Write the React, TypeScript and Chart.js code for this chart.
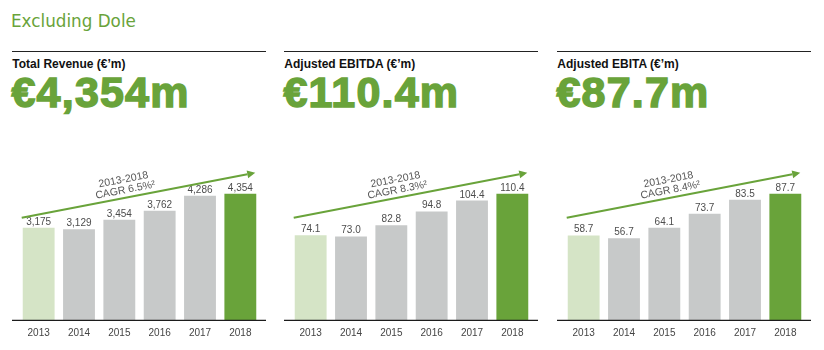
import React, { useEffect, useRef } from "react";
import { Chart, registerables } from "chart.js";

Chart.register(...registerables);

// ---- data ----
const YEARS = ["2013", "2014", "2015", "2016", "2017", "2018"];
const REVENUE = [3175, 3129, 3454, 3762, 4286, 4354];
const REVENUE_LABELS = ["3,175", "3,129", "3,454", "3,762", "4,286", "4,354"];
const EBITDA = [74.1, 73.0, 82.8, 94.8, 104.4, 110.4];
const EBITDA_LABELS = ["74.1", "73.0", "82.8", "94.8", "104.4", "110.4"];
const EBITA = [58.7, 56.7, 64.1, 73.7, 83.5, 87.7];
const EBITA_LABELS = ["58.7", "56.7", "64.1", "73.7", "83.5", "87.7"];
const PAGE_TITLE = "Excluding Dole";
const TITLES = ["Total Revenue (€’m)", "Adjusted EBITDA (€’m)", "Adjusted EBITA (€’m)"];
const HEADLINES = ["€4,354m", "€110.4m", "€87.7m"];
const CAGR_PERIOD = "2013-2018";
const CAGRS = ["CAGR 6.5%²", "CAGR 8.3%²", "CAGR 8.4%²"];

// ---- styles ----
const GREEN = "#69a33a";
const LIGHT_GREEN = "#d5e4c6";
const GREY = "#c7c9c9";
const BAR_COLORS = [LIGHT_GREEN, GREY, GREY, GREY, GREY, GREEN];
const SANS = "'Liberation Sans', Arial, Helvetica, sans-serif";

type PanelProps = {
  left: number;
  title: string;
  headline: string;
  values: number[];
  labels: string[];
  cagr: string;
};

function Panel({ left, title, headline, values, labels, cagr }: PanelProps) {
  const ref = useRef<HTMLCanvasElement | null>(null);

  useEffect(() => {
    if (!ref.current) return;
    const max = Math.max(...values);

    const overlay = {
      id: "overlay",
      afterDatasetsDraw(chart: any) {
        const ctx: CanvasRenderingContext2D = chart.ctx;
        const meta = chart.getDatasetMeta(0);
        const ys = chart.scales.y;
        const area = chart.chartArea;
        ctx.save();
        // baseline
        const by = ys.getPixelForValue(0);
        ctx.strokeStyle = "#1c1c1c";
        ctx.lineWidth = 1.3;
        ctx.beginPath();
        ctx.moveTo(area.left - 6.5, by + 0.5);
        ctx.lineTo(area.right + 5.5, by + 0.5);
        ctx.stroke();

        // value labels
        ctx.fillStyle = "#4d4d4d";
        ctx.font = `10px ${SANS}`;
        ctx.textAlign = "center";
        ctx.textBaseline = "alphabetic";
        meta.data.forEach((bar: any, i: number) => {
          ctx.fillText(labels[i], bar.x, bar.y - 3);
        });

        // CAGR arrow
        const first = meta.data[0];
        const last = meta.data[meta.data.length - 1];
        const x0 = first.x - first.width / 2 - 1;
        const x1 = last.x + last.width / 2 - 1;
        const y0 = ys.getPixelForValue(max * 0.81);
        const y1 = ys.getPixelForValue(max * 1.165);
        const ang = Math.atan2(y1 - y0, x1 - x0);
        const head = 8;
        const hw = 4;
        const bx = x1 - head * Math.cos(ang);
        const byy = y1 - head * Math.sin(ang);
        ctx.strokeStyle = GREEN;
        ctx.fillStyle = GREEN;
        ctx.lineWidth = 2;
        ctx.beginPath();
        ctx.moveTo(x0, y0);
        ctx.lineTo(bx, byy);
        ctx.stroke();
        ctx.beginPath();
        ctx.moveTo(x1, y1);
        ctx.lineTo(bx + hw * Math.sin(ang), byy - hw * Math.cos(ang));
        ctx.lineTo(bx - hw * Math.sin(ang), byy + hw * Math.cos(ang));
        ctx.closePath();
        ctx.fill();

        // CAGR text along arrow
        const t = 0.45;
        const ax = x0 + (x1 - x0) * t;
        const ay = y0 + (y1 - y0) * t;
        ctx.translate(ax, ay);
        ctx.rotate(ang);
        ctx.fillStyle = "#555555";
        ctx.font = `10.5px ${SANS}`;
        ctx.textAlign = "center";
        ctx.textBaseline = "middle";
        ctx.fillText(CAGR_PERIOD, 0, -18);
        ctx.fillText(cagr, 0, -7.5);
        ctx.restore();
      },
    };

    const chart = new Chart(ref.current, {
      type: "bar",
      data: {
        labels: YEARS,
        datasets: [
          {
            data: values,
            backgroundColor: BAR_COLORS,
            borderWidth: 0,
            barPercentage: 0.79,
            categoryPercentage: 1,
          },
        ],
      },
      options: {
        animation: false,
        responsive: false,
        maintainAspectRatio: false,
        layout: { padding: { left: 18.5, right: 11.5, top: 10, bottom: 2.1 } },
        plugins: {
          legend: { display: false },
          tooltip: { enabled: false },
        },
        scales: {
          x: {
            grid: { display: false, drawTicks: false },
            border: { display: false },
            ticks: {
              color: "#444444",
              font: { family: SANS, size: 10 },
              padding: 7.5,
              maxRotation: 0,
            },
          },
          y: { display: false, min: 0, max: max * 1.33 },
        },
      },
      plugins: [overlay],
    });
    return () => chart.destroy();
  }, []);

  return (
    <>
      <div
        style={{
          position: "absolute",
          left: left + 12,
          top: 50.5,
          width: 254,
          height: 0,
          borderTop: "1.2px solid #222",
        }}
      />
      <div
        style={{
          position: "absolute",
          left: left + 12.3,
          top: 57.5,
          lineHeight: "12px",
          fontFamily: SANS,
          fontWeight: 700,
          fontSize: 12,
          color: "#111",
          whiteSpace: "nowrap",
        }}
      >
        {title}
      </div>
      <div
        style={{
          position: "absolute",
          left: left + 11.5,
          top: 70.5,
          lineHeight: "43px",
          fontFamily: SANS,
          fontWeight: 700,
          fontSize: 43,
          letterSpacing: 1.2,
          color: GREEN,
          WebkitTextStroke: `1.5px ${GREEN}`,
          whiteSpace: "nowrap",
        }}
      >
        {headline}
      </div>
      <canvas
        ref={ref}
        width={272}
        height={207}
        style={{ position: "absolute", left, top: 142, width: 272, height: 207 }}
      />
    </>
  );
}

export default function App() {
  return (
    <div
      style={{
        position: "fixed",
        left: 0,
        top: 0,
        width: 824,
        height: 350,
        background: "#fff",
        overflow: "hidden",
      }}
    >
      <div
        style={{
          position: "absolute",
          left: 11,
          top: 13.3,
          lineHeight: "17px",
          fontFamily: "'DejaVu Sans', sans-serif",
          fontSize: 16.8,
          color: GREEN,
          whiteSpace: "nowrap",
        }}
      >
        {PAGE_TITLE}
      </div>
      <Panel left={0} title={TITLES[0]} headline={HEADLINES[0]} values={REVENUE} labels={REVENUE_LABELS} cagr={CAGRS[0]} />
      <Panel left={272} title={TITLES[1]} headline={HEADLINES[1]} values={EBITDA} labels={EBITDA_LABELS} cagr={CAGRS[1]} />
      <Panel left={545} title={TITLES[2]} headline={HEADLINES[2]} values={EBITA} labels={EBITA_LABELS} cagr={CAGRS[2]} />
    </div>
  );
}
